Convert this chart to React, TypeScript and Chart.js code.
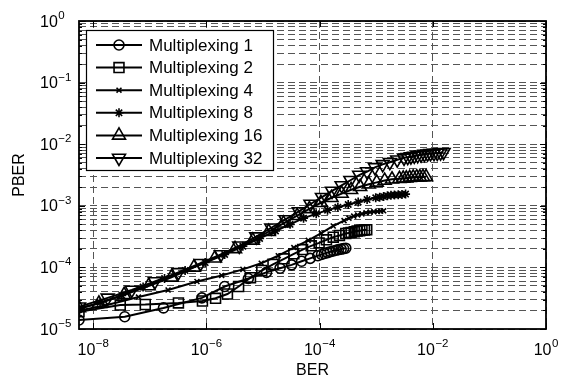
import React, { useEffect, useRef } from 'react';
import { Chart, registerables } from 'chart.js';
import { drawPoint } from 'chart.js/helpers';

Chart.register(...registerables);

const seriesNames = ['Multiplexing 1', 'Multiplexing 2', 'Multiplexing 4', 'Multiplexing 8', 'Multiplexing 16', 'Multiplexing 32'];

const ber1 = [5.6e-9, 3.6e-8, 1.74e-7, 8.3e-7, 2.1e-6, 5.5e-6, 1.15e-5, 2.0e-5, 3.2e-5, 4.8e-5, 6.8e-5, 9.3e-5, 1.08e-4, 1.22e-4, 1.38e-4, 1.55e-4, 1.75e-4, 1.95e-4, 2.15e-4, 2.4e-4, 2.65e-4, 2.9e-4];
const pber1 = [1.4e-5, 1.58e-5, 2.2e-5, 3.2e-5, 4.9e-5, 6.6e-5, 8.3e-5, 9.7e-5, 1.1e-4, 1.26e-4, 1.4e-4, 1.55e-4, 1.62e-4, 1.68e-4, 1.74e-4, 1.8e-4, 1.85e-4, 1.9e-4, 1.94e-4, 1.98e-4, 2.02e-4, 2.05e-4];

const ber2 = [5.6e-9, 3.0e-8, 8.3e-8, 3.2e-7, 8.5e-7, 1.45e-6, 2.35e-6, 3.7e-6, 6.0e-6, 9.5e-6, 1.5e-5, 2.35e-5, 3.5e-5, 5.0e-5, 7.1e-5, 9.8e-5, 1.32e-4, 1.74e-4, 2.24e-4, 2.9e-4, 3.25e-4, 3.6e-4, 4.1e-4, 4.6e-4, 5.1e-4, 5.6e-4, 6.2e-4, 6.8e-4];
const pber2 = [1.9e-5, 2.45e-5, 2.5e-5, 2.65e-5, 2.85e-5, 3.15e-5, 3.7e-5, 4.9e-5, 6.8e-5, 8.9e-5, 1.12e-4, 1.38e-4, 1.66e-4, 1.95e-4, 2.24e-4, 2.5e-4, 2.8e-4, 3.1e-4, 3.3e-4, 3.55e-4, 3.63e-4, 3.7e-4, 3.8e-4, 3.9e-4, 3.95e-4, 4.0e-4, 4.05e-4, 4.1e-4];

const ber4 = [5.6e-9, 1.62e-8, 6.3e-8, 2.1e-7, 6.8e-7, 1.86e-6, 4.4e-6, 9.3e-6, 1.86e-5, 3.5e-5, 6.3e-5, 1.07e-4, 1.74e-4, 2.7e-4, 3.3e-4, 4.0e-4, 4.7e-4, 5.6e-4, 6.6e-4, 7.8e-4, 9.1e-4, 1.05e-3, 1.2e-3, 1.35e-3];
const pber4 = [2.0e-5, 2.4e-5, 3.3e-5, 4.3e-5, 5.9e-5, 7.4e-5, 9.3e-5, 1.17e-4, 1.55e-4, 2.1e-4, 2.75e-4, 3.6e-4, 4.7e-4, 5.75e-4, 6.3e-4, 6.8e-4, 7.1e-4, 7.4e-4, 7.7e-4, 7.9e-4, 8.0e-4, 8.1e-4, 8.2e-4, 8.3e-4];

const ber8 = [5.6e-9, 1.32e-8, 3.2e-8, 7.6e-8, 1.82e-7, 4.2e-7, 9.5e-7, 2.1e-6, 4.4e-6, 8.7e-6, 1.66e-5, 3.0e-5, 5.2e-5, 8.7e-5, 1.38e-4, 2.1e-4, 3.2e-4, 4.8e-4, 6.9e-4, 9.8e-4, 1.15e-3, 1.35e-3, 1.58e-3, 1.82e-3, 2.1e-3, 2.45e-3, 2.85e-3, 3.3e-3];
const pber8 = [2.1e-5, 2.7e-5, 3.5e-5, 4.8e-5, 6.6e-5, 8.9e-5, 1.2e-4, 1.62e-4, 2.2e-4, 2.95e-4, 3.9e-4, 5.0e-4, 6.3e-4, 7.4e-4, 8.5e-4, 9.5e-4, 1.05e-3, 1.15e-3, 1.26e-3, 1.35e-3, 1.38e-3, 1.41e-3, 1.45e-3, 1.48e-3, 1.5e-3, 1.51e-3, 1.53e-3, 1.55e-3];

const ber16 = [5.6e-9, 1.26e-8, 3.5e-8, 9.5e-8, 2.4e-7, 6.0e-7, 1.41e-6, 3.2e-6, 6.6e-6, 1.26e-5, 2.3e-5, 4.0e-5, 6.6e-5, 1.05e-4, 1.62e-4, 2.45e-4, 3.6e-4, 5.2e-4, 7.4e-4, 1.02e-3, 1.41e-3, 1.9e-3, 2.57e-3, 3.0e-3, 3.4e-3, 3.9e-3, 4.5e-3, 5.2e-3, 5.9e-3, 6.7e-3, 7.6e-3];
const pber16 = [2.2e-5, 2.6e-5, 3.6e-5, 5.0e-5, 6.9e-5, 1.0e-4, 1.41e-4, 2.0e-4, 2.75e-4, 3.8e-4, 5.2e-4, 6.9e-4, 8.9e-4, 1.12e-3, 1.35e-3, 1.58e-3, 1.82e-3, 2.04e-3, 2.24e-3, 2.4e-3, 2.57e-3, 2.7e-3, 2.75e-3, 2.78e-3, 2.8e-3, 2.85e-3, 2.9e-3, 2.91e-3, 2.92e-3, 2.94e-3, 2.95e-3];

const ber32 = [5.6e-9, 1.8e-8, 4.8e-8, 1.23e-7, 3.2e-7, 7.9e-7, 1.8e-6, 3.8e-6, 7.6e-6, 1.4e-5, 2.5e-5, 4.3e-5, 6.9e-5, 1.1e-4, 1.66e-4, 2.45e-4, 3.5e-4, 5.0e-4, 6.9e-4, 9.5e-4, 1.3e-3, 1.74e-3, 2.35e-3, 3.1e-3, 3.6e-3, 4.1e-3, 4.7e-3, 5.4e-3, 6.2e-3, 7.1e-3, 8.1e-3, 9.1e-3, 1.05e-2, 1.2e-2, 1.37e-2, 1.55e-2];
const pber32 = [2.3e-5, 3.2e-5, 4.3e-5, 5.9e-5, 8.3e-5, 1.17e-4, 1.62e-4, 2.24e-4, 3.16e-4, 4.4e-4, 6.0e-4, 8.1e-4, 1.07e-3, 1.38e-3, 1.74e-3, 2.14e-3, 2.6e-3, 3.16e-3, 3.6e-3, 4.2e-3, 4.7e-3, 5.1e-3, 5.6e-3, 6.0e-3, 6.15e-3, 6.3e-3, 6.45e-3, 6.6e-3, 6.75e-3, 6.9e-3, 7.0e-3, 7.1e-3, 7.15e-3, 7.2e-3, 7.3e-3, 7.4e-3];

const xTickValues = [1e-8, 1e-6, 1e-4, 1e-2, 1];
const yDecades = [1e-5, 1e-4, 1e-3, 1e-2, 1e-1];
const yMinorFactors = [1, 2, 3, 4, 5, 6, 7, 8, 9];

const FONT = "'Liberation Sans', Arial, 'DejaVu Sans', sans-serif";

function isDecade(v: number) {
  const l = Math.log10(v);
  return Math.abs(l - Math.round(l)) < 1e-9;
}
function expText(v: number) {
  return String(Math.round(Math.log10(v))).replace('-', '\u2212');
}

const styles = [
  { pointStyle: 'circle', radius: 5, rotation: 0 },
  { pointStyle: 'rect', radius: 7, rotation: 0 },
  { pointStyle: 'crossRot', radius: 3.5, rotation: 0 },
  { pointStyle: 'star', radius: 4.5, rotation: 0 },
  { pointStyle: 'triangle', radius: 7.5, rotation: 0 },
  { pointStyle: 'triangle', radius: 7.5, rotation: 180 },
];

const allBer = [ber1, ber2, ber4, ber8, ber16, ber32];
const allPber = [pber1, pber2, pber4, pber8, pber16, pber32];

function drawPow(ctx: CanvasRenderingContext2D, v: number, x: number, baseline: number, align: 'left' | 'center') {
  const e = expText(v);
  ctx.font = `16px ${FONT}`;
  const wb = ctx.measureText('10').width;
  ctx.font = `11.5px ${FONT}`;
  const we = ctx.measureText(e).width;
  const gap = 0.5;
  const x0 = align === 'left' ? x : x - (wb + gap + we) / 2;
  ctx.textAlign = 'left';
  ctx.textBaseline = 'alphabetic';
  ctx.font = `16px ${FONT}`;
  ctx.fillText('10', x0, baseline);
  ctx.font = `11.5px ${FONT}`;
  ctx.fillText(e, x0 + wb + gap, baseline - 7.5);
}

const framePlugin = {
  id: 'frameAndLegend',
  afterDatasetsDraw(chart: any) {
    const { ctx, chartArea } = chart;
    const { left, right, top, bottom } = chartArea;
    const xs = chart.scales.x;
    const ys = chart.scales.y;
    ctx.save();
    ctx.setLineDash([]);
    ctx.strokeStyle = '#000';
    ctx.lineWidth = 1;
    ys.ticks.forEach((t: any) => {
      const py = Math.round(ys.getPixelForValue(t.value)) + 0.5;
      const len = isDecade(t.value) ? 6 : 3;
      ctx.beginPath();
      ctx.moveTo(left, py); ctx.lineTo(left + len, py);
      ctx.moveTo(right, py); ctx.lineTo(right - len, py);
      ctx.stroke();
    });
    xs.ticks.forEach((t: any) => {
      const px = Math.round(xs.getPixelForValue(t.value)) + 0.5;
      ctx.beginPath();
      ctx.moveTo(px, bottom); ctx.lineTo(px, bottom - 6);
      ctx.moveTo(px, top); ctx.lineTo(px, top + 6);
      ctx.stroke();
    });
    ctx.lineWidth = 1.8;
    ctx.strokeRect(left, top, right - left, bottom - top);

    // tick labels
    ctx.fillStyle = '#000';
    ys.ticks.forEach((t: any) => {
      if (!isDecade(t.value)) return;
      const py = ys.getPixelForValue(t.value);
      drawPow(ctx, t.value, left - 39, py + 5.5, 'left');
    });
    xs.ticks.forEach((t: any) => {
      const px = xs.getPixelForValue(t.value);
      drawPow(ctx, t.value, px, bottom + 25.5, 'center');
    });

    // legend
    const bx = left + 7.5, by = top + 9.5, bw = 187, bh = 140;
    ctx.fillStyle = '#fff';
    ctx.fillRect(bx, by, bw, bh);
    ctx.lineWidth = 1.2;
    ctx.strokeStyle = '#000';
    ctx.strokeRect(bx, by, bw, bh);
    ctx.font = `17px ${FONT}`;
    ctx.textBaseline = 'middle';
    ctx.textAlign = 'left';
    seriesNames.forEach((name, i) => {
      const yy = top + 24 + i * 22.6;
      ctx.lineWidth = 2;
      ctx.strokeStyle = '#000';
      ctx.beginPath();
      ctx.moveTo(left + 17, yy);
      ctx.lineTo(left + 63, yy);
      ctx.stroke();
      ctx.fillStyle = 'rgba(0,0,0,0)';
      ctx.lineWidth = 1.6;
      drawPoint(ctx, { pointStyle: styles[i].pointStyle as any, radius: styles[i].radius, rotation: styles[i].rotation, borderWidth: 1.6 }, left + 40, yy);
      ctx.fillStyle = '#000';
      ctx.fillText(name, left + 70, yy + 1);
    });
    ctx.restore();
  },
};

export default function App() {
  const ref = useRef<HTMLCanvasElement>(null);
  useEffect(() => {
    if (!ref.current) return;
    const datasets = seriesNames.map((name, i) => ({
      label: name,
      data: allBer[i].map((b, k) => ({ x: b, y: allPber[i][k] })),
      borderColor: '#000',
      borderWidth: 2,
      pointStyle: styles[i].pointStyle,
      pointRadius: styles[i].radius,
      pointRotation: styles[i].rotation,
      pointBorderWidth: 1.6,
      pointBorderColor: '#000',
      pointBackgroundColor: 'rgba(0,0,0,0)',
      pointHoverRadius: styles[i].radius,
      tension: 0,
      fill: false,
    }));
    const yTickValues: number[] = [];
    yDecades.forEach((d) => yMinorFactors.forEach((k) => yTickValues.push(k * d)));
    yTickValues.push(1);

    const gridCommon = { color: '#555', lineWidth: 1, drawTicks: false };
    const chart = new Chart(ref.current, {
      type: 'line',
      data: { datasets },
      plugins: [framePlugin],
      options: {
        animation: false,
        responsive: false,
        devicePixelRatio: 1,
        layout: { padding: { left: 0, right: 13, top: 13, bottom: 0 } },
        plugins: { legend: { display: false }, tooltip: { enabled: false } },
        scales: {
          x: {
            type: 'logarithmic',
            min: 5.6e-9,
            max: 1,
            afterBuildTicks: (s: any) => { s.ticks = xTickValues.map((v) => ({ value: v })); },
            afterFit: (s: any) => { s.height = 48; },
            ticks: { display: false, autoSkip: false },
            grid: gridCommon,
            border: { display: false, dash: [7, 4] },
            title: { display: true, text: 'BER', color: '#000', font: { family: FONT, size: 16, lineHeight: 0.8 }, padding: { top: 0, bottom: 0 } },
          },
          y: {
            type: 'logarithmic',
            min: 1e-5,
            max: 1,
            afterBuildTicks: (s: any) => { s.ticks = yTickValues.map((v) => ({ value: v })); },
            afterFit: (s: any) => { s.width = 71; },
            ticks: { display: false, autoSkip: false },
            grid: gridCommon,
            border: { display: false, dash: [7, 4] },
            title: { display: true, text: 'PBER', color: '#000', font: { family: FONT, size: 16, lineHeight: 1 }, padding: { top: 4, bottom: 0 } },
          },
        },
      } as any,
    });
    return () => chart.destroy();
  }, []);
  return (
    <div style={{ width: 551, height: 369 }}>
      <canvas ref={ref} width={551} height={369} style={{ display: 'block' }} />
    </div>
  );
}
